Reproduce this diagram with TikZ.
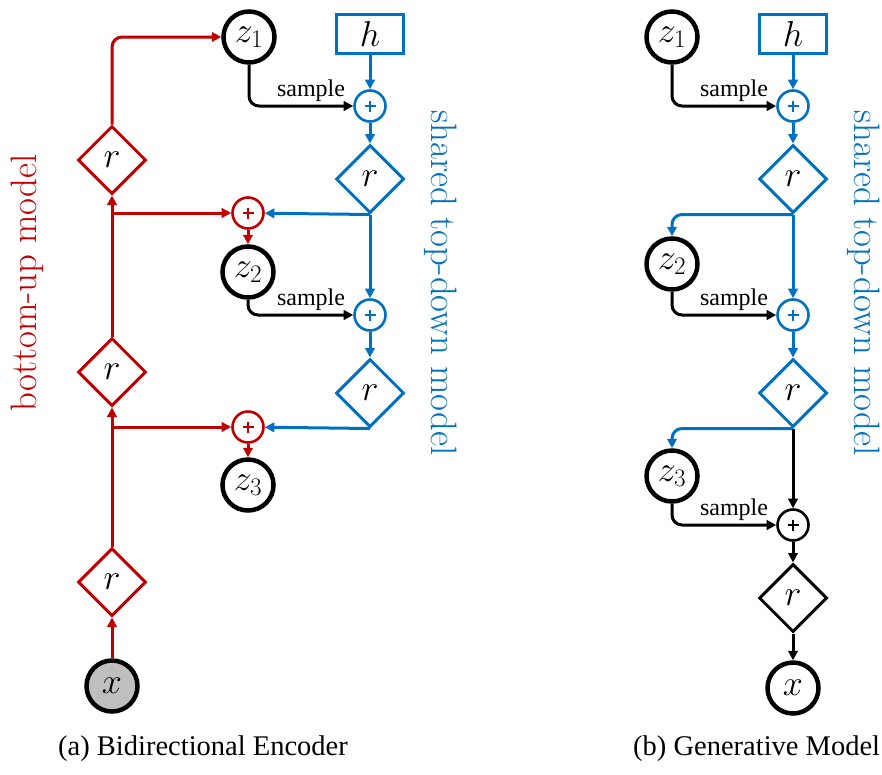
\RequirePackage{fix-cm}
\documentclass[tikz,border=0pt]{standalone}
\usepackage{fontspec}
\newfontfamily\tms{Liberation Serif}
\usetikzlibrary{shapes.geometric,arrows.meta,calc}
\definecolor{myred}{HTML}{C00000}
\definecolor{myblue}{HTML}{0070C0}
\definecolor{mygray}{HTML}{BFBFBF}
\begin{document}
\begin{tikzpicture}[x=1pt,y=-1pt,
  zc/.style={circle,draw=black,line width=4.5pt,minimum size=51pt,inner sep=0pt,font=\fontsize{36}{40}\selectfont},
  pl/.style={circle,draw=#1,line width=2.6pt,minimum size=31pt,inner sep=0pt,
    path picture={\draw[#1,line width=2pt]
      ($(path picture bounding box.center)+(-5.5,0)$) -- ($(path picture bounding box.center)+(5.5,0)$)
      ($(path picture bounding box.center)+(0,-5.5)$) -- ($(path picture bounding box.center)+(0,5.5)$);}},
  dm/.style={diamond,draw,line width=3pt,minimum width=68pt,minimum height=68pt,inner sep=0pt,font=\fontsize{36}{40}\selectfont},
  hbx/.style={rectangle,draw=myblue,line width=3pt,minimum width=67pt,minimum height=39pt,inner sep=0pt,font=\fontsize{36}{40}\selectfont},
  ar/.style={line width=3pt,-{Triangle[length=9.5pt,width=9.5pt]}},
  smp/.style={font=\tms\fontsize{24}{24}\selectfont,anchor=base east,inner sep=0pt},
  rc/.style={rounded corners=10pt},
  sidetxt/.style={anchor=base,inner sep=0pt,font=\fontsize{36.8}{40}\selectfont},
  captxt/.style={anchor=base,inner sep=0pt,font=\tms\fontsize{28.5}{30}\selectfont}
]
\useasboundingbox (0,0) rectangle (882,774);

% ---------- left panel ----------
\node[zc,fill=mygray] (xa) at (112,686) {$x$};
\node[dm,draw=myred] (ra1) at (112,582) {$r$};
\node[dm,draw=myred] (ra2) at (112,372) {$r$};
\node[dm,draw=myred] (ra3) at (112,160) {$r$};
\node[zc] (za1) at (249,37) {$z_1$};
\node[hbx] (ha) at (370,34) {$h$};
\node[pl=myblue] (bpa1) at (370,106) {};
\node[dm,draw=myblue] (bda1) at (370,179) {$r$};
\node[pl=myred] (rpa2) at (248,213) {};
\node[zc] (za2) at (248,272) {$z_2$};
\node[pl=myblue] (bpa2) at (370,315) {};
\node[dm,draw=myblue] (bda2) at (370,393) {$r$};
\node[pl=myred] (rpa3) at (248,427) {};
\node[zc] (za3) at (248,485) {$z_3$};

\draw[ar,myred] (xa) -- (ra1);
\draw[ar,myred] (ra1) -- (ra2);
\draw[ar,myred] (ra2) -- (ra3);
\draw[ar,myred] (ra1.north |- rpa3) -- (rpa3);
\draw[ar,myred] (ra2.north |- rpa2) -- (rpa2);
\draw[ar,myred,rc] (ra3.north) |- (za1);
\draw[ar,myblue] (ha) -- (bpa1);
\draw[ar,rc] (za1) |- (bpa1);
\node[smp] (sa1) at ($(bpa1.west)+(-8,-10)$) {sample};
\draw[ar,myblue] (bpa1) -- (bda1);
\draw[ar,myblue] (bda1.south) -- (bpa2);
\draw[ar,myblue] (bda1.south) -- (rpa2);
\draw[ar,myred] (rpa2) -- (za2);
\draw[ar,rc] (za2) |- (bpa2);
\node[smp] (sa2) at ($(bpa2.west)+(-8,-10)$) {sample};
\draw[ar,myblue] (bpa2) -- (bda2);
\draw[ar,myblue] (bda2.south) -- (rpa3);
\draw[ar,myred] (rpa3) -- (za3);

\node[sidetxt,rotate=90,text=myred] (bu) at (36,283) {bottom-up model};
\node[sidetxt,rotate=-90,text=myblue] (tda) at (431,283) {shared top-down model};
\node[captxt] (capa) at (203,755) {(a) Bidirectional Encoder};

% ---------- right panel ----------
\node[zc] (zb1) at (672,37) {$z_1$};
\node[hbx] (hb) at (793,34) {$h$};
\node[pl=myblue] (bpb1) at (793,106) {};
\node[dm,draw=myblue] (bdb1) at (793,179) {$r$};
\node[zc] (zb2) at (672,264) {$z_2$};
\node[pl=myblue] (bpb2) at (793,315) {};
\node[dm,draw=myblue] (bdb2) at (793,393) {$r$};
\node[zc] (zb3) at (672,476) {$z_3$};
\node[pl=black] (kpb) at (793,525) {};
\node[dm,draw=black] (kdb) at (793,598) {$r$};
\node[zc] (xb) at (793,688) {$x$};

\draw[ar,myblue] (hb) -- (bpb1);
\draw[ar,rc] (zb1) |- (bpb1);
\node[smp] (sb1) at ($(bpb1.west)+(-8,-10)$) {sample};
\draw[ar,myblue] (bpb1) -- (bdb1);
\draw[ar,myblue] (bdb1.south) -- (bpb2);
\draw[ar,myblue,rc] (bdb1.south) -| (zb2);
\draw[ar,rc] (zb2) |- (bpb2);
\node[smp] (sb2) at ($(bpb2.west)+(-8,-10)$) {sample};
\draw[ar,myblue] (bpb2) -- (bdb2);
\draw[ar,myblue,rc] (bdb2.south) -| (zb3);
\draw[ar] (bdb2.south) -- (kpb);
\draw[ar,rc] (zb3) |- (kpb);
\node[smp] (sb3) at ($(kpb.west)+(-8,-10)$) {sample};
\draw[ar] (kpb) -- (kdb);
\draw[ar] (kdb) -- (xb);

\node[sidetxt,rotate=-90,text=myblue] (tdb) at (854,283) {shared top-down model};
\node[captxt,anchor=base west] (capb) at (633,755) {(b) Generative Model};
\end{tikzpicture}
\end{document}
